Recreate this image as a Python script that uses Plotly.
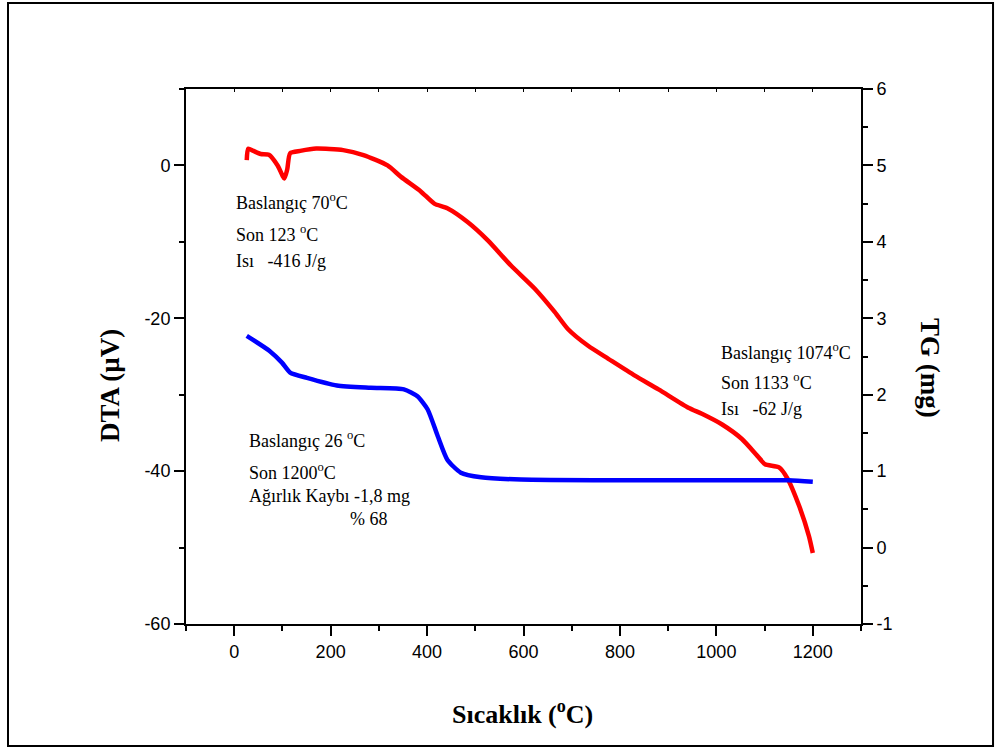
import plotly.graph_objects as go

# DTA curve (left axis, µV) vs temperature (°C)
dta_temp = [26, 29, 40, 55, 72, 90, 104, 110, 116, 137, 170, 226, 268, 318, 346,
            387, 415, 442, 484, 526, 574, 623, 665, 692, 734, 776, 831, 880, 942,
            970, 1012, 1053, 1085, 1101, 1130, 1147, 1172, 1192, 1200]
dta_val = [0.7, 2.2, 1.9, 1.5, 1.4, 0.0, -1.7, -0.5, 1.6, 1.9, 2.2, 2.0, 1.35, 0.0, -1.5,
           -3.4, -5.0, -5.6, -7.4, -9.8, -13.1, -16.1, -19.2, -21.4, -23.6, -25.3, -27.5, -29.3, -31.7,
           -32.5, -33.9, -35.8, -38.0, -39.1, -39.5, -40.9, -44.6, -48.5, -50.7]

# TG curve (right axis, mg) vs temperature (°C)
tg_temp = [26, 74, 99, 116, 151, 213, 283, 352, 380, 401, 422, 442, 470, 512, 595,
           800, 1000, 1150, 1200]
tg_val = [2.77, 2.57, 2.42, 2.29, 2.22, 2.12, 2.09, 2.07, 1.98, 1.81, 1.46, 1.15, 0.98, 0.92, 0.89,
          0.88, 0.88, 0.88, 0.86]

x_major = [0, 200, 400, 600, 800, 1000, 1200]
dta_major = [-60, -40, -20, 0]
dta_labels = ["-60", "-40", "-20", "0"]
tg_major = [-1, 0, 1, 2, 3, 4, 5, 6]
tg_labels = ["-1", "0", "1", "2", "3", "4", "5", "6"]

TICK_FONT = dict(family="Liberation Sans", size=18, color="black")
SERIF = "Liberation Serif"

fig = go.Figure()

fig.add_trace(go.Scatter(
    x=dta_temp, y=dta_val, mode="lines",
    line=dict(color="#ff0000", width=4.5, shape="spline", smoothing=0.6),
    xaxis="x", yaxis="y", showlegend=False, hoverinfo="skip"))

fig.add_trace(go.Scatter(
    x=tg_temp, y=tg_val, mode="lines",
    line=dict(color="#0000ff", width=4.5, shape="spline", smoothing=0.6),
    xaxis="x", yaxis="y2", showlegend=False, hoverinfo="skip"))

# invisible trace that keeps the top frame axis alive
fig.add_trace(go.Scatter(x=[-100], y=[-60], mode="markers", marker=dict(opacity=0),
                         xaxis="x2", yaxis="y", showlegend=False, hoverinfo="skip"))

axis_common = dict(showline=True, linecolor="black", linewidth=2, showgrid=False,
                   zeroline=False, ticks="outside", tickcolor="black", tickwidth=2,
                   ticklen=10, tickfont=TICK_FONT)

fig.update_layout(
    width=995, height=749,
    margin=dict(l=186, r=134, t=89, b=125, pad=0),
    paper_bgcolor="white", plot_bgcolor="white",
    xaxis=dict(range=[-100, 1300], tickmode="array", tickvals=x_major,
               ticktext=[str(v) for v in x_major],
               minor=dict(tickmode="linear", tick0=-100, dtick=100, ticks="outside",
                          ticklen=5, tickwidth=2, tickcolor="black"),
               **axis_common),
    xaxis2=dict(range=[-100, 1300], overlaying="x", side="top", showline=True,
                linecolor="black", linewidth=2, showgrid=False, zeroline=False,
                ticks="inside", tickmode="linear", tick0=-100, dtick=100, ticklen=3,
                tickwidth=1, tickcolor="black", showticklabels=False),
    yaxis=dict(range=[-60, 10], tickmode="array", tickvals=dta_major, ticktext=dta_labels,
               minor=dict(tickmode="linear", tick0=-60, dtick=10, ticks="outside",
                          ticklen=5, tickwidth=2, tickcolor="black"),
               **axis_common),
    yaxis2=dict(range=[-1, 6], overlaying="y", side="right", tickmode="array",
                tickvals=tg_major, ticktext=tg_labels,
                minor=dict(tickmode="linear", tick0=-1, dtick=0.5, ticks="outside",
                           ticklen=5, tickwidth=2, tickcolor="black"),
                **axis_common),
)

# outer frame around the whole figure
fig.add_shape(type="rect", xref="paper", yref="paper",
              x0=-0.2637, x1=1.1956, y0=-0.228, y1=1.1607,
              line=dict(color="black", width=2), fillcolor="rgba(0,0,0,0)", layer="below")

# axis titles
fig.add_annotation(text="<b>Sıcaklık (<sup>o</sup>C)</b>", xref="paper", yref="paper",
                   x=0.4978, y=-0.1645, showarrow=False, xanchor="center", yanchor="middle",
                   font=dict(family=SERIF, size=26, color="black"))
fig.add_annotation(text="<b>DTA (µV)</b>", xref="paper", yref="paper",
                   x=-0.1126, y=0.4467, textangle=-90, showarrow=False,
                   xanchor="center", yanchor="middle",
                   font=dict(family=SERIF, size=27, color="black"))
fig.add_annotation(text="<b>TG (mg)</b>", xref="paper", yref="paper",
                   x=1.1022, y=0.4785, textangle=90, showarrow=False,
                   xanchor="center", yanchor="middle",
                   font=dict(family=SERIF, size=27, color="black"))

# peak / mass-loss notes (temperature on x, DTA scale on y)
notes = [
    (0, -4.7, "Baslangıç 70<sup>o</sup>C"),
    (0, -8.9, "Son 123 <sup>o</sup>C"),
    (0, -12.5, "Isı   -416 J/g"),
    (26, -35.8, "Baslangıç 26 <sup>o</sup>C"),
    (26, -40.0, "Son 1200<sup>o</sup>C"),
    (26, -43.3, "Ağırlık Kaybı -1,8 mg"),
    (237, -46.3, "% 68"),
    (1005, -24.4, "Baslangıç 1074<sup>o</sup>C"),
    (1005, -28.3, "Son 1133 <sup>o</sup>C"),
    (1005, -31.9, "Isı   -62 J/g"),
]
for nx, ny, txt in notes:
    fig.add_annotation(text=txt, x=nx, y=ny, xref="x", yref="y", showarrow=False,
                       xanchor="left", yanchor="middle",
                       font=dict(family=SERIF, size=18, color="black"))

fig.write_html("out.html")
